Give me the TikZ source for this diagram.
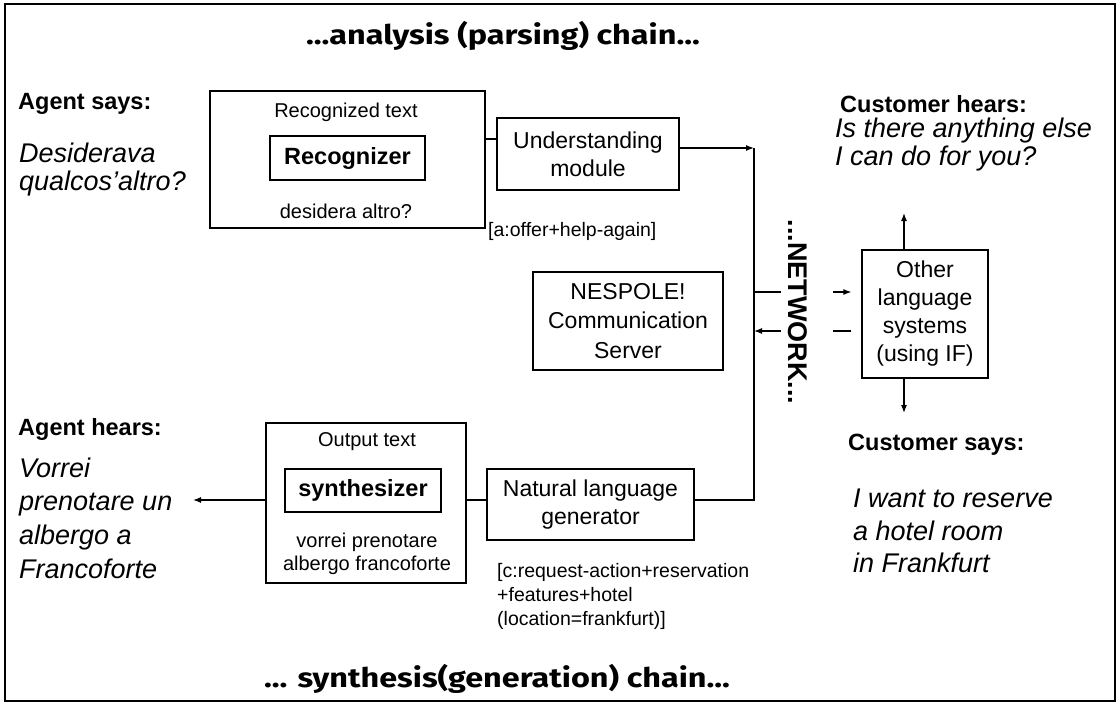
\documentclass[tikz,border=0pt]{standalone}
\usepackage{fontspec}
\setmainfont{Liberation Sans}
\newfontfamily\chainfont[FakeStretch=1.2]{Fira Sans}
\usetikzlibrary{arrows.meta}

\tikzset{
  modbox/.style={draw, line width=1.2pt, inner sep=0pt, align=center, font=\fontsize{23}{28}\selectfont},
  framebox/.style={draw, line width=1.2pt, inner sep=0pt},
  smalltxt/.style={inner sep=0pt, align=center, font=\fontsize{20}{23}\selectfont},
  iflabel/.style={inner sep=0pt, anchor=west, align=left, font=\fontsize{19.5}{24}\selectfont},
  headtxt/.style={inner sep=0pt, anchor=west, font=\fontsize{23.5}{28}\selectfont\bfseries},
  saidtxt/.style={inner sep=0pt, anchor=west, align=left, font=\fontsize{27}{28}\selectfont\itshape},
  chaintitle/.style={inner sep=0pt, anchor=base, font=\fontsize{27}{30}\selectfont\chainfont\bfseries},
  flow/.style={line width=1.2pt},
  flowarr/.style={line width=1.2pt, -{Latex[length=8pt,width=6pt]}}
}

\begin{document}
\begin{tikzpicture}[x=1pt,y=-1pt]
        \useasboundingbox (0,0) rectangle (1120,705);
        \draw[line width=1.5pt] (5,4) rectangle (1115,701);

        \node[chaintitle] (parsetitle) at (503,44) {...analysis (parsing) chain...};
        \node[chaintitle] (gentitle) at (497,687) {... synthesis(generation) chain...};

        % agent side
        \node[headtxt] (agentsays) at (18,104) {Agent says:};
        \node[saidtxt] (agentq) at (19,170) {Desiderava\\qualcos'altro?};
        \node[headtxt] (agenthears) at (18,429) {Agent hears:};
        \node[saidtxt, font=\fontsize{27}{33.7}\selectfont\itshape] (agenta) at (19,518) {Vorrei\\prenotare un\\albergo a\\Francoforte};

        % analysis chain
        \node[framebox, minimum width=275pt, minimum height=137pt] (recbox) at (347.5,159.5) {};
        \node[smalltxt] (rectext) at (346,112) {Recognized text};
        \node[modbox, minimum width=155pt, minimum height=44pt, font=\fontsize{23.5}{28}\selectfont\bfseries] (recog) at (347.5,158) {Recognizer};
        \node[smalltxt] (recout) at (346,211) {desidera altro?};
        \node[modbox, minimum width=182pt, minimum height=72pt] (und) at (588,154) {Understanding\\module};
        \node[iflabel] (ifa) at (488,231) {[a:offer+help-again]};

        \node[modbox, minimum width=190pt, minimum height=98pt, font=\fontsize{23}{29.5}\selectfont] (server) at (628,321) {NESPOLE!\\Communication\\Server};

        % generation chain
        \node[framebox, minimum width=200pt, minimum height=160pt] (synbox) at (366,503) {};
        \node[smalltxt] (syntext) at (367,442) {Output text};
        \node[modbox, minimum width=156pt, minimum height=43pt, font=\fontsize{23.5}{28}\selectfont\bfseries] (synth) at (363,490.5) {synthesizer};
        \node[smalltxt] (synin) at (367,554) {vorrei prenotare\\albergo francoforte};
        \node[modbox, minimum width=207pt, minimum height=71pt] (nlg) at (590.5,504.5) {Natural language\\generator};
        \node[iflabel] (ifc) at (497,596) {[c:request-action+reservation\\+features+hotel\\(location=frankfurt)]};

        % network and the other side
        \node[inner sep=0pt, rotate=-90, font=\fontsize{27}{30}\selectfont\bfseries] (network) at (798,312) {...NETWORK...};
        \node[modbox, minimum width=126pt, minimum height=128pt] (others) at (925,314) {Other\\language\\systems\\(using IF)};

        \node[headtxt] (custhears) at (840,104) {Customer hears:};
        \node[saidtxt] (custa) at (835,145) {Is there anything else\\I can do for you?};
        \node[headtxt] (custsays) at (848,445) {Customer says:};
        \node[saidtxt, font=\fontsize{27}{32.5}\selectfont\itshape] (custq) at (853,531) {I want to reserve\\a hotel room\\in Frankfurt};

        \coordinate (parse) at (491,139);
        \coordinate (nettop) at (754,148);
        \coordinate (netbot) at (754,500);
        \coordinate (outA) at (781,292);
        \coordinate (inA) at (833,292);
        \coordinate (outB) at (781,331);
        \coordinate (inB) at (833,331);
        \coordinate (hearsend) at (904,213);
        \coordinate (saysend) at (904,413);
        \coordinate (agentend) at (193,500);

        \draw[flow] (recbox.east |- parse) -- (und.west |- parse);
        \draw[flowarr] (und.east |- nettop) -- (nettop);
        \draw[flow] (nettop) -- (netbot) -- (nlg.east |- netbot);
        \draw[flow] (nlg.west |- netbot) -- (synbox.east |- netbot);
        \draw[flowarr] (synbox.west |- netbot) -- (agentend);

        \draw[flow] (nettop |- outA) -- (outA);
        \draw[flowarr] (inA) -- ([xshift=-10pt]others.west |- inA);
        \draw[flow] ([xshift=-10pt]others.west |- inB) -- (inB);
        \draw[flowarr] (outB) -- (nettop |- outB);

        \draw[flowarr] (others.north -| hearsend) -- (hearsend);
        \draw[flowarr] (others.south -| saysend) -- (saysend);
\end{tikzpicture}
\end{document}
